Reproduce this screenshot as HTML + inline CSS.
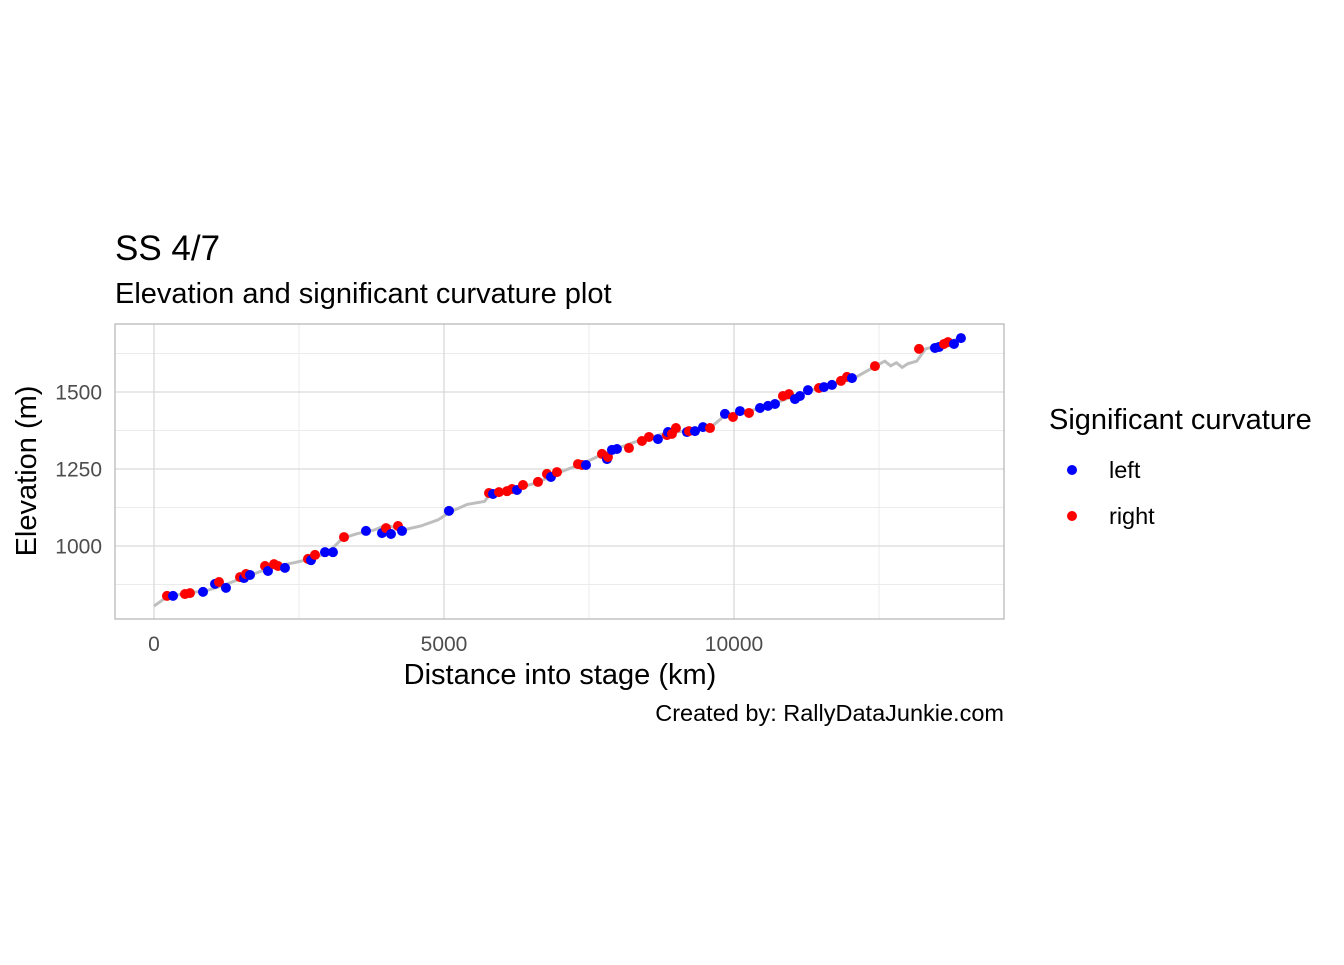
<!DOCTYPE html>
<html><head><meta charset="utf-8"><style>
body{margin:0;background:#fff;font-family:"Liberation Sans",sans-serif;}
</style></head><body>
<svg id="c" width="1344" height="960" xmlns="http://www.w3.org/2000/svg" font-family="Liberation Sans, sans-serif"></svg>
<script>
const xTicks=[0,5000,10000];
const yTicks=[1000,1250,1500];
const lineDist=[0,150,300,600,900,1200,1500,1800,2100,2400,2700,3000,3250,3500,3800,4000,4300,4600,4900,5100,5400,5700,5800,6200,6600,7000,7400,7700,8000,8400,8800,9200,9600,9850,10200,10600,11000,11400,11800,12100,12450,12600,12700,12800,12900,13000,13150,13300,13600,13900];
const lineElev=[805,825,838,848,855,872,895,915,935,945,958,978,1025,1040,1052,1068,1052,1065,1085,1110,1135,1145,1170,1185,1205,1240,1268,1295,1318,1345,1365,1375,1385,1425,1435,1455,1485,1510,1530,1548,1585,1600,1585,1595,1580,1592,1600,1640,1655,1675];
const leftDist=[328,845,1052,1241,1552,1655,1965,2258,2707,2948,3086,3655,3931,4086,4276,5086,5845,6258,6844,7448,7810,7896,7982,8689,8862,9189,9327,9465,9844,10103,10448,10586,10707,11051,11137,11275,11551,11689,12034,13465,13534,13793,13913];
const leftElev=[838,851,877,864,896,906,919,929,954,980,980,1049,1042,1039,1049,1114,1169,1182,1224,1263,1282,1312,1315,1347,1370,1370,1373,1386,1429,1438,1448,1455,1461,1477,1487,1506,1516,1523,1545,1643,1646,1656,1675];
const rightDist=[224,534,620,1121,1483,1586,1914,2069,2138,2655,2776,3276,4000,4207,5776,5948,6086,6172,6362,6620,6775,6948,7310,7379,7724,7827,8189,8413,8534,8844,8930,8999,9224,9586,9982,10258,10844,10948,11465,11844,11948,12430,13190,13620,13689];
const rightElev=[838,844,847,883,899,909,935,941,935,958,971,1029,1058,1065,1172,1175,1178,1185,1198,1208,1234,1240,1266,1263,1299,1289,1318,1341,1354,1360,1364,1383,1373,1383,1419,1432,1487,1493,1513,1536,1549,1584,1640,1656,1662];

const NS="http://www.w3.org/2000/svg";
const svg=document.getElementById('c');
const P={l:115,r:1004,t:324,b:619};
const sx=v=>154+v*0.058;
const sy=v=>392-(v-1500)*0.308;
function mk(tag,attrs,parent){const e=document.createElementNS(NS,tag);for(const k in attrs)e.setAttribute(k,attrs[k]);(parent||svg).appendChild(e);return e;}
function txt(s,attrs){const e=mk('text',attrs);e.textContent=s;return e;}

const grid=mk('g',{});


[-2500,2500,7500,12500].forEach(v=>{const x=sx(v);if(x>P.l&&x<P.r)mk('line',{x1:x,x2:x,y1:P.t,y2:P.b,stroke:'#ebebeb','stroke-width':1},grid);});
[875,1125,1375,1625].forEach(v=>mk('line',{x1:P.l,x2:P.r,y1:sy(v),y2:sy(v),stroke:'#ebebeb','stroke-width':1},grid));
xTicks.forEach(v=>mk('line',{x1:sx(v),x2:sx(v),y1:P.t,y2:P.b,stroke:'#d9d9d9','stroke-width':1.3},grid));
yTicks.forEach(v=>mk('line',{x1:P.l,x2:P.r,y1:sy(v),y2:sy(v),stroke:'#d9d9d9','stroke-width':1.3},grid));
const frame=mk('rect',{x:P.l,y:P.t,width:P.r-P.l,height:P.b-P.t,fill:'none',stroke:'#b3b3b3','stroke-width':1.2});



const line=mk('polyline',{points:lineDist.map((d,i)=>sx(d)+','+sy(lineElev[i])).join(' '),fill:'none',stroke:'#bebebe','stroke-width':3});



const pts=[];
leftDist.forEach((d,i)=>pts.push([d,leftElev[i],'#0000ff','left-point']));
rightDist.forEach((d,i)=>pts.push([d,rightElev[i],'#ff0000','right-point']));
pts.sort((a,b)=>a[0]-b[0]);
pts.forEach(p=>{const c=mk('circle',{cx:sx(p[0]),cy:sy(p[1]),r:5,fill:p[2]});

});

xTicks.forEach(v=>{const t=txt(String(v),{x:sx(v),y:651,'font-size':21,fill:'#4d4d4d','text-anchor':'middle'});

});
yTicks.forEach(v=>{const t=txt(String(v),{x:102,y:sy(v)+7.5,'font-size':21,fill:'#4d4d4d','text-anchor':'end'});

});

let t;
t=txt('SS 4/7',{x:115,y:260,'font-size':35,fill:'#000'});
t=txt('Elevation and significant curvature plot',{x:115,y:303,'font-size':29,fill:'#000'});
t=txt('Distance into stage (km)',{x:560,y:684,'font-size':29,fill:'#000','text-anchor':'middle'});
t=txt('Elevation (m)',{x:0,y:0,'font-size':29,fill:'#000','text-anchor':'middle',transform:'translate(36,471) rotate(-90)'});
t=txt('Created by: RallyDataJunkie.com',{x:1004,y:721,'font-size':23.5,fill:'#000','text-anchor':'end'});
t=txt('Significant curvature',{x:1049,y:429,'font-size':29,fill:'#000'});
const lg=[['left','#0000ff',470],['right','#ff0000',516]];
lg.forEach(l=>{const g=mk('g',{});


mk('circle',{cx:1072,cy:l[2],r:5,fill:l[1]},g);
const tt=mk('text',{x:1109,y:l[2]+8,'font-size':23.5,fill:'#000'},g);tt.textContent=l[0];});
</script>
</body></html>
